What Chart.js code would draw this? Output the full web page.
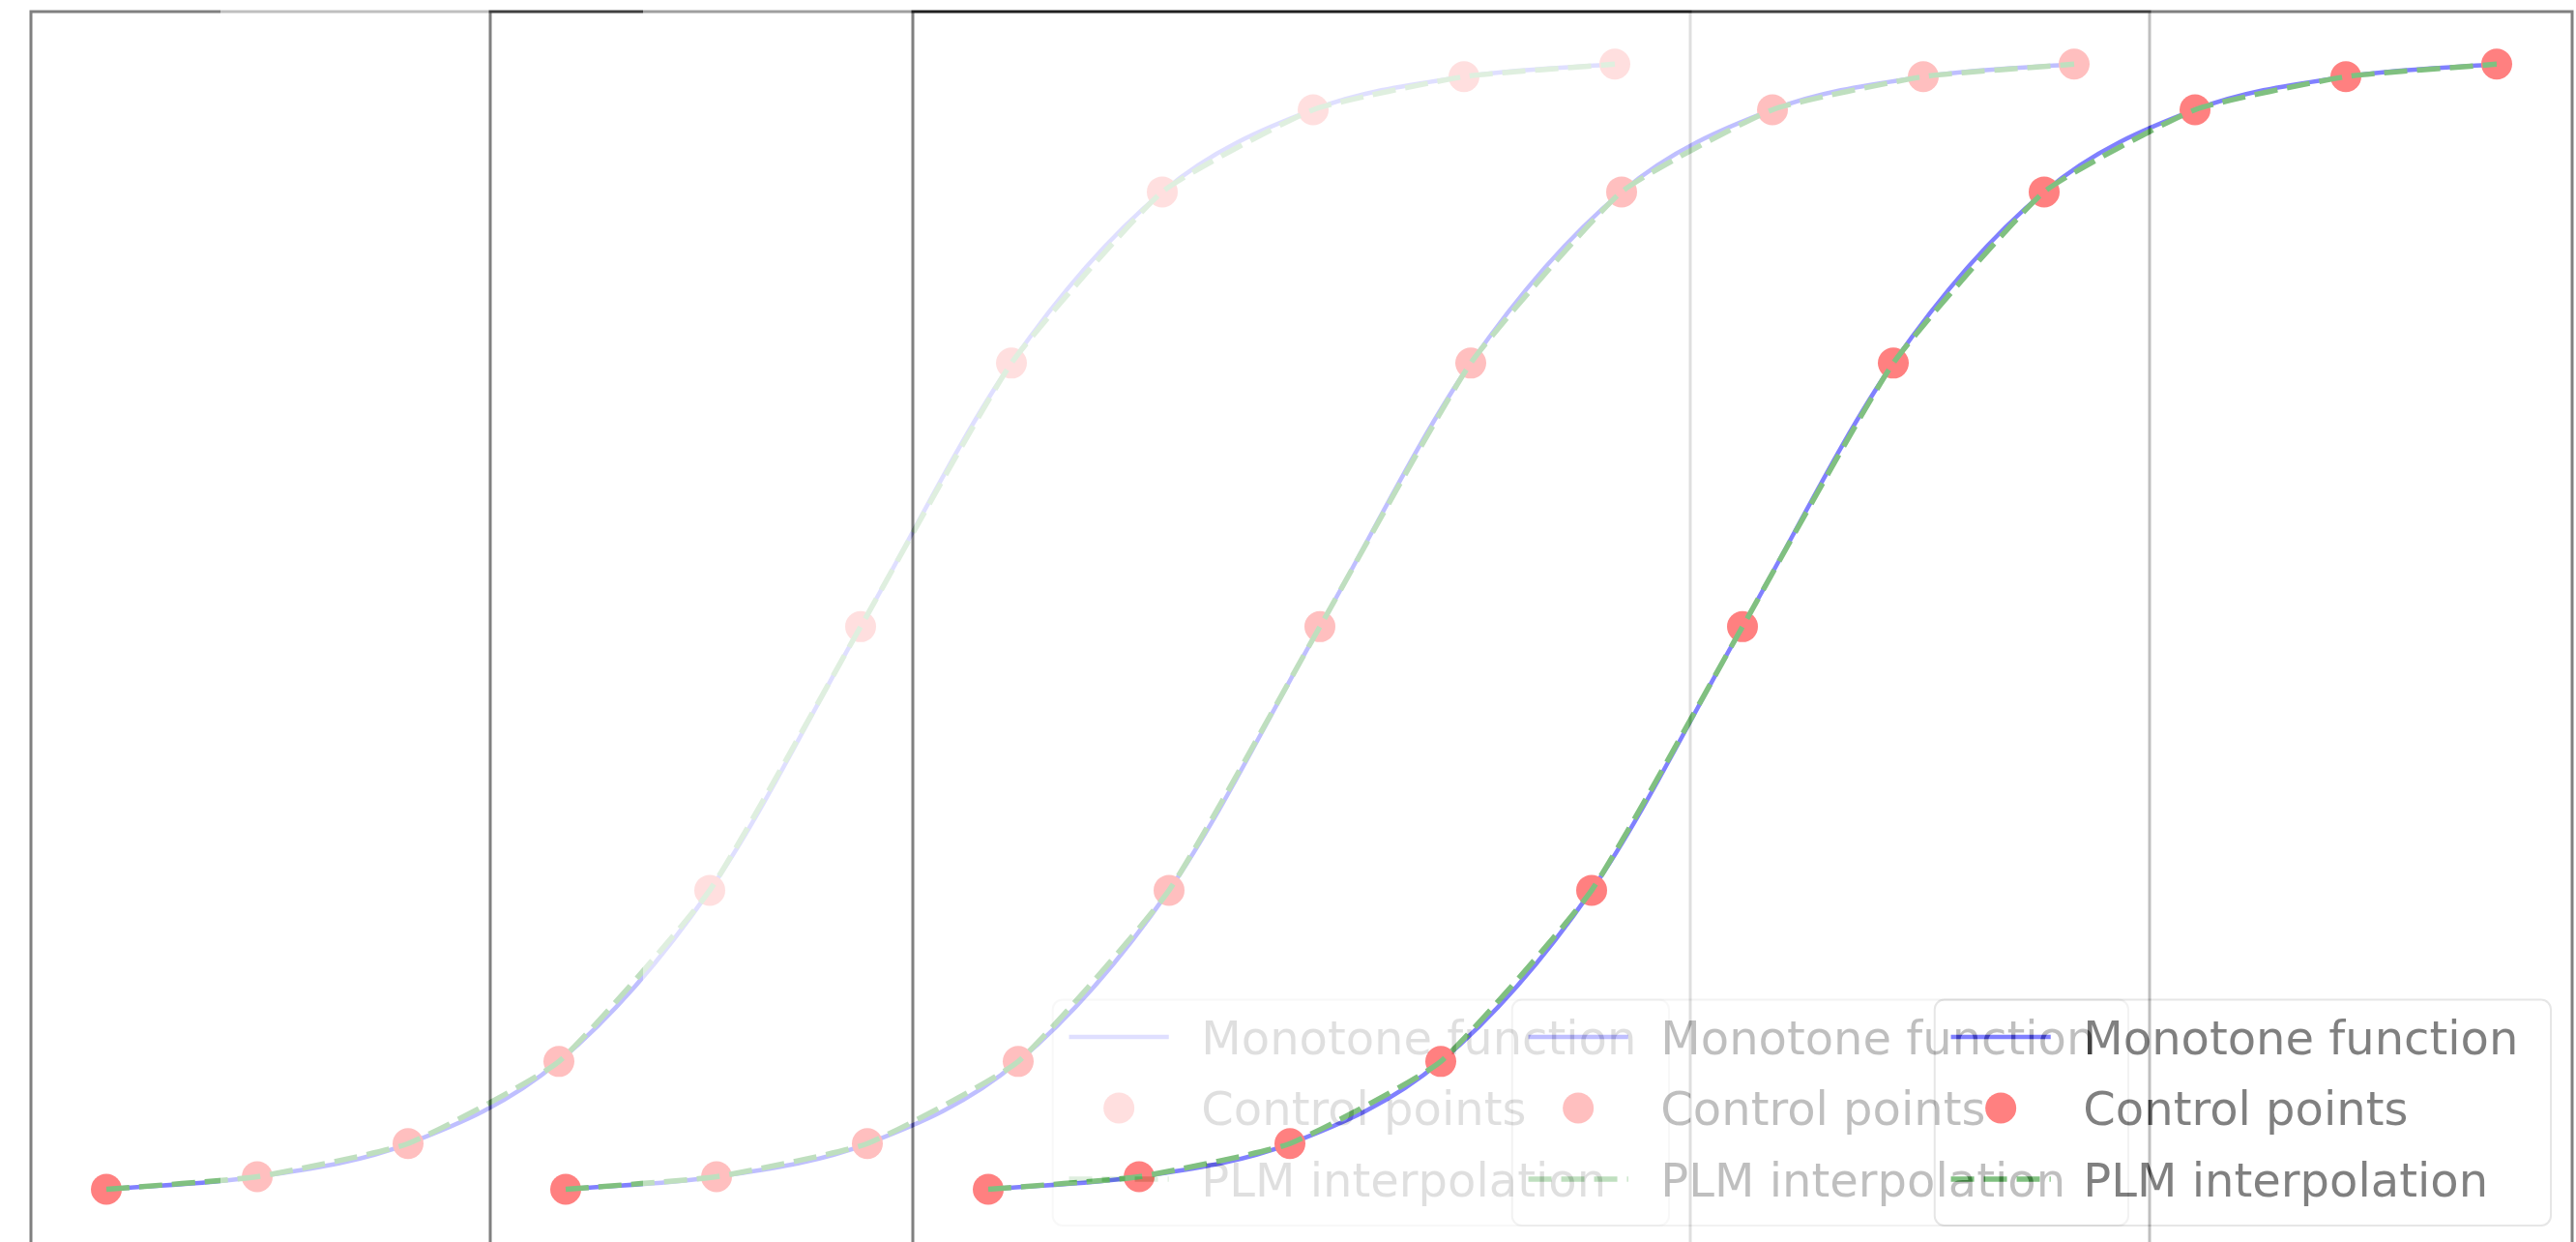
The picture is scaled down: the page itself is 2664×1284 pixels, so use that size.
<!DOCTYPE html>
<html lang="en">
<head>
<meta charset="UTF-8">
<title>Monotone function vs PLM interpolation</title>
<script src="https://cdn.jsdelivr.net/npm/chart.js"></script>
<style>
html, body {
    margin: 0;
    padding: 0;
    overflow: hidden;
    background: #fff;
}

/* three frames of the same figure, laid over each other at half opacity */
#stage {
    position: relative;
    width: 2664px;
    height: 1284px;
    overflow: hidden;
    background: #fff;
}

#stage canvas {
    position: absolute;
    top: 0;
    background: #fff;
    opacity: 0.5;
}
</style>
</head>
<body>
<div id="stage">
    <canvas id="frame1" width="1999" height="1292" style="left:-247px"></canvas>
    <canvas id="frame2" width="1999" height="1292" style="left:228px"></canvas>
    <canvas id="frame3" width="1999" height="1292" style="left:665px"></canvas>
</div>
<script>
// values, the same curve in every frame
const xValues = [0, 1, 2, 3, 4, 5, 6, 7, 8, 9, 10];
const controlY = [0.007, 0.018, 0.047, 0.119, 0.269, 0.5, 0.731, 0.881, 0.953, 0.982, 0.993];
const monotoneY = [0.007, 0.018, 0.047, 0.119, 0.269, 0.5, 0.731, 0.881, 0.953, 0.982, 0.993];
const plmY = [0.007, 0.018, 0.047, 0.119, 0.269, 0.5, 0.731, 0.881, 0.953, 0.982, 0.993];
const seriesLabels = ['Monotone function', 'Control points', 'PLM interpolation'];
const xLimits = [-0.5, 10.5];
const yLimits = [-0.046, 1.039];

function toPoints(ys) {
    return xValues.map((x, i) => ({ x: x, y: ys[i] }));
}

function roundedRect(ctx, x, y, w, h, r) {
    ctx.beginPath();
    ctx.moveTo(x + r, y);
    ctx.arcTo(x + w, y, x + w, y + h, r);
    ctx.arcTo(x + w, y + h, x, y + h, r);
    ctx.arcTo(x, y + h, x, y, r);
    ctx.arcTo(x, y, x + w, y, r);
    ctx.closePath();
}

// black box round the plot area, like matplotlib spines
const axesFrame = {
    id: 'axesFrame',
    afterDatasetsDraw(chart) {
        const { ctx, chartArea: a } = chart;
        ctx.save();
        ctx.strokeStyle = '#000';
        ctx.lineWidth = 3;
        ctx.strokeRect(a.left, a.top, a.right - a.left, a.bottom - a.top);
        ctx.restore();
    }
};

// legend in the lower right corner inside the plot
const mplLegend = {
    id: 'mplLegend',
    afterDatasetsDraw(chart) {
        const { ctx, chartArea: a } = chart;
        const items = chart.data.datasets;
        const fs = 48;
        const rowGap = 73.5;
        ctx.save();
        ctx.font = fs + 'px "DejaVu Sans"';
        const textW = Math.max(...items.map(d => ctx.measureText(d.label).width));
        const handleLen = 2.15 * fs;
        const padL = 0.35 * fs;
        const gap = 0.7 * fs;
        const padR = 0.7 * fs;
        const w = padL + handleLen + gap + textW + padR;
        const h = 0.8 * fs + rowGap * (items.length - 1) + 1.0 * fs;
        const right = a.right - 22;
        const bottom = 1267;
        const left = right - w;
        const top = bottom - h;

        roundedRect(ctx, left, top, w, h, 10);
        ctx.fillStyle = 'rgba(255,255,255,0.8)';
        ctx.fill();
        ctx.strokeStyle = 'rgb(204,204,204)';
        ctx.lineWidth = 2;
        ctx.stroke();

        items.forEach((d, i) => {
            const y = top + 0.8 * fs + i * rowGap;
            const hx = left + padL;
            if (d.showLine === false) {
                ctx.beginPath();
                ctx.arc(hx + handleLen / 2, y, d.pointRadius, 0, Math.PI * 2);
                ctx.fillStyle = d.pointBackgroundColor;
                ctx.fill();
            } else {
                ctx.beginPath();
                ctx.setLineDash(d.borderDash || []);
                ctx.moveTo(hx, y);
                ctx.lineTo(hx + handleLen, y);
                ctx.strokeStyle = d.borderColor;
                ctx.lineWidth = d.borderWidth;
                ctx.stroke();
                ctx.setLineDash([]);
            }
            ctx.fillStyle = '#000';
            ctx.textAlign = 'left';
            ctx.textBaseline = 'alphabetic';
            ctx.fillText(d.label, hx + handleLen + gap, y + 0.37 * fs);
        });
        ctx.restore();
    }
};

function makeFrame(id) {
    return new Chart(document.getElementById(id), {
        type: 'line',
        data: {
            datasets: [{
                label: seriesLabels[0],
                data: toPoints(monotoneY),
                borderColor: 'rgb(0,0,255)',
                borderWidth: 4.5,
                pointRadius: 0,
                cubicInterpolationMode: 'monotone',
                order: 3
            }, {
                label: seriesLabels[1],
                data: toPoints(controlY),
                showLine: false,
                borderColor: 'rgb(255,0,0)',
                pointRadius: 16,
                pointBackgroundColor: 'rgb(255,0,0)',
                pointBorderWidth: 0,
                order: 2
            }, {
                label: seriesLabels[2],
                data: toPoints(plmY),
                borderColor: 'rgb(0,128,0)',
                borderWidth: 5.5,
                borderDash: [24, 10],
                pointRadius: 0,
                tension: 0.15,
                order: 1
            }]
        },
        options: {
            responsive: false,
            animation: false,
            events: [],
            layout: {
                autoPadding: false,
                padding: { left: 279, right: 4, top: 12, bottom: 0 }
            },
            scales: {
                x: { type: 'linear', min: xLimits[0], max: xLimits[1], display: false },
                y: { min: yLimits[0], max: yLimits[1], display: false }
            },
            plugins: {
                legend: { display: false },
                tooltip: { enabled: false }
            }
        },
        plugins: [axesFrame, mplLegend]
    });
}

makeFrame('frame1');
makeFrame('frame2');
makeFrame('frame3');
</script>
</body>
</html>
